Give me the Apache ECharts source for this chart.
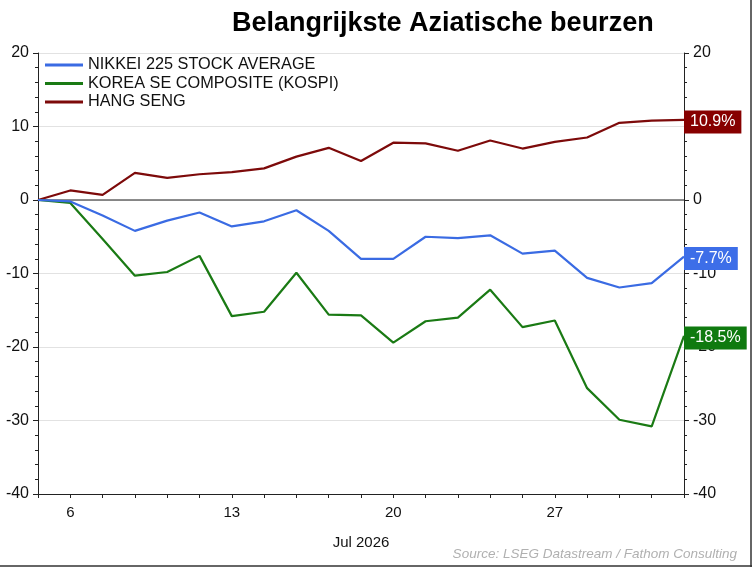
<!DOCTYPE html>
<html>
<head>
<meta charset="utf-8">
<script src="https://cdn.jsdelivr.net/npm/echarts@6/dist/echarts.min.js"></script>
<style>
  html, body { margin: 0; padding: 0; background: #fff; }
  #main { width: 752px; height: 567px; }
</style>
</head>
<body>
<div id="main"></div>
<script>
// trading days, Jul 2026
var days = ['3', '6', '7', '8', '9', '10', '13', '14', '15', '16', '17',
    '20', '21', '22', '23', '24', '27', '28', '29', '30', '31'];
var shownDays = ['6', '13', '20', '27'];

var nikkei = [0, -0.2, -2.1, -4.2, -2.8, -1.7, -3.6, -2.9, -1.4, -4.2, -8.0,
    -8.0, -5.0, -5.2, -4.8, -7.3, -6.9, -10.6, -11.9, -11.3, -7.7];
var kospi = [0, -0.4, -5.3, -10.3, -9.8, -7.6, -15.8, -15.2, -9.9, -15.6, -15.7,
    -19.4, -16.5, -16.0, -12.2, -17.3, -16.4, -25.6, -29.9, -30.8, -18.5];
var hangSeng = [0, 1.3, 0.7, 3.7, 3.0, 3.5, 3.8, 4.3, 5.9, 7.1, 5.3,
    7.8, 7.7, 6.7, 8.1, 7.0, 7.9, 8.5, 10.5, 10.8, 10.9];

var names = ['NIKKEI 225 STOCK AVERAGE', 'KOREA SE COMPOSITE (KOSPI)', 'HANG SENG'];
var colors = ['#3a6be3', '#1a7a14', '#7d0a0a'];
var labelBg = ['#3d6ee8', '#0f7a0f', '#870000'];

var sans = "'Liberation Sans', Arial, sans-serif";
var narrow = "'Liberation Sans Narrow', 'Arial Narrow', 'Liberation Sans', sans-serif";

var myChart = echarts.init(document.getElementById('main'));

function lineSeries(i, data) {
    return {
        name: names[i],
        type: 'line',
        data: data,
        symbol: 'none',
        lineStyle: { color: colors[i], width: 2.2 },
        itemStyle: { color: colors[i] },
        z: 8 - i,
        endLabel: {
            show: true,
            formatter: function(p) { return p.value.toFixed(1) + '%'; },
            color: '#fff',
            fontFamily: sans,
            fontSize: 16,
            backgroundColor: labelBg[i],
            padding: [4, 6, 3, 6],
            distance: 0,
            offset: [0, 2]
        }
    };
}

var series = [
    lineSeries(0, nikkei),
    lineSeries(1, kospi),
    lineSeries(2, hangSeng)
];
// zero line
series[0].markLine = {
    silent: true,
    symbol: 'none',
    label: { show: false },
    lineStyle: { color: '#666', width: 1.5, type: 'solid' },
    data: [{ yAxis: 0 }]
};

var yCommon = {
    type: 'value',
    min: -40,
    max: 20,
    interval: 10,
    axisLine: { show: true, lineStyle: { color: '#222', width: 1 } },
    axisTick: { show: true, length: 5, lineStyle: { color: '#222' } },
    minorTick: { show: true, splitNumber: 5, length: 3, lineStyle: { color: '#222' } },
    axisLabel: { color: '#111', fontFamily: sans, fontSize: 16, margin: 9 }
};

var option = {
    animation: false,
    title: {
        text: 'Belangrijkste Aziatische beurzen',
        left: 227,
        top: 5,
        textStyle: { fontFamily: sans, fontWeight: 'bold', fontSize: 27, color: '#000' }
    },
    legend: {
        orient: 'vertical',
        left: 40,
        top: 52,
        icon: 'rect',
        itemWidth: 38,
        itemHeight: 3,
        itemGap: 2.5,
        data: names,
        textStyle: { fontFamily: sans, fontSize: 16.3, color: '#111' }
    },
    grid: { left: 38, right: 68, top: 53, bottom: 73 },
    xAxis: {
        type: 'category',
        data: days,
        boundaryGap: false,
        name: 'Jul 2026',
        nameLocation: 'middle',
        nameGap: 41,
        nameTextStyle: { fontFamily: narrow, fontSize: 15, color: '#111' },
        axisLine: { onZero: false, lineStyle: { color: '#222' } },
        axisTick: { show: true, interval: 0, length: 4, lineStyle: { color: '#222' } },
        axisLabel: {
            interval: function(idx, val) { return shownDays.indexOf(val) >= 0; },
            fontFamily: narrow,
            fontSize: 15,
            color: '#111',
            margin: 11
        }
    },
    yAxis: [
        Object.assign({}, yCommon, {
            position: 'left',
            splitLine: { show: true, lineStyle: { color: '#e2e2e2', width: 1 } }
        }),
        Object.assign({}, yCommon, {
            position: 'right',
            splitLine: { show: false }
        })
    ],
    series: series,
    graphic: [
        {
            type: 'text',
            right: 15,
            top: 547,
            style: {
                text: 'Source: LSEG Datastream / Fathom Consulting',
                fontFamily: narrow,
                fontStyle: 'italic',
                fontSize: 13.5,
                fill: '#b0b0b0'
            }
        },
        { type: 'line', shape: { x1: 751, y1: 0, x2: 751, y2: 567 }, style: { stroke: '#333', lineWidth: 1.5 } },
        { type: 'line', shape: { x1: 0, y1: 566, x2: 752, y2: 566 }, style: { stroke: '#333', lineWidth: 1.5 } }
    ]
};

myChart.setOption(option);
</script>
</body>
</html>
